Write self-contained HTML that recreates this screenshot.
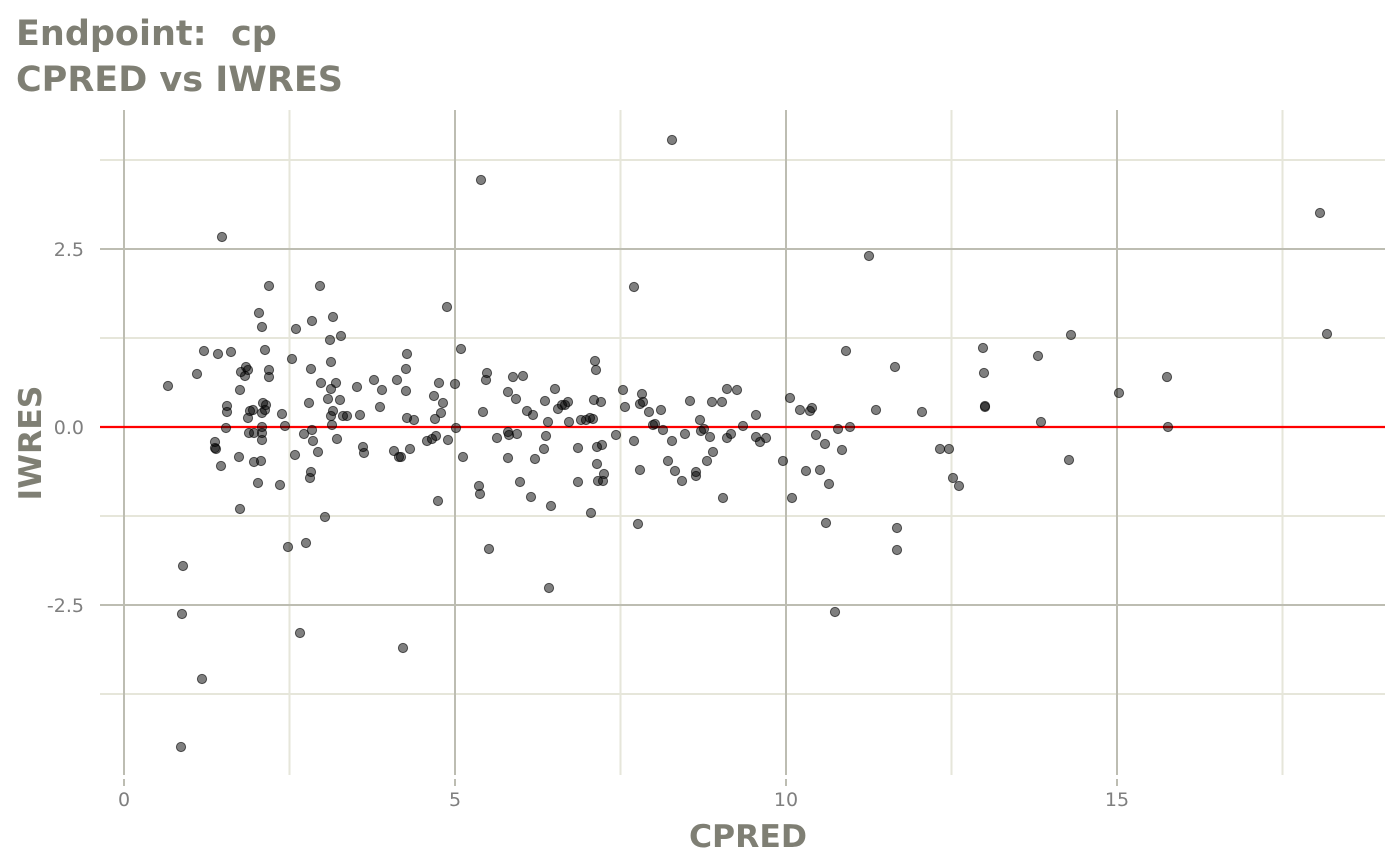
<!DOCTYPE html>
<html><head><meta charset="utf-8"><style>
html,body{margin:0;padding:0;background:#fff;}
svg{display:block;font-family:"DejaVu Sans","Liberation Sans",sans-serif;}
</style></head><body>
<svg width="1400" height="865" viewBox="0 0 1400 865" xmlns="http://www.w3.org/2000/svg">
<rect width="1400" height="865" fill="#fff"/>
<text x="16" y="45" font-size="35" font-weight="bold" fill="#7f7f74" xml:space="preserve">Endpoint:  cp</text>
<text x="16" y="91" font-size="35" font-weight="bold" fill="#7f7f74">CPRED vs IWRES</text>
<g stroke="#e6e6da" stroke-width="2">
<line x1="100" x2="1385" y1="160" y2="160"/><line x1="100" x2="1385" y1="338" y2="338"/>
<line x1="100" x2="1385" y1="516" y2="516"/><line x1="100" x2="1385" y1="694" y2="694"/>
<line x1="289.5" x2="289.5" y1="110" y2="775"/><line x1="620.5" x2="620.5" y1="110" y2="775"/>
<line x1="951.5" x2="951.5" y1="110" y2="775"/><line x1="1282.5" x2="1282.5" y1="110" y2="775"/>
</g>
<g stroke="#bdbdb2" stroke-width="2">
<line x1="100" x2="1385" y1="249" y2="249"/><line x1="100" x2="1385" y1="427" y2="427"/>
<line x1="100" x2="1385" y1="605" y2="605"/>
<line x1="124" x2="124" y1="110" y2="775"/><line x1="455" x2="455" y1="110" y2="775"/>
<line x1="786" x2="786" y1="110" y2="775"/><line x1="1117" x2="1117" y1="110" y2="775"/>
<line x1="124" x2="124" y1="779" y2="786"/><line x1="455" x2="455" y1="779" y2="786"/>
<line x1="786" x2="786" y1="779" y2="786"/><line x1="1117" x2="1117" y1="779" y2="786"/>
</g>
<line x1="100" x2="1385" y1="427" y2="427" stroke="#ff0000" stroke-width="2.2"/>
<g fill="rgba(0,0,0,0.5)" stroke="rgba(0,0,0,0.6)" stroke-width="1" id="pts"></g>
<g font-size="19" fill="#7f7f7f" text-anchor="end">
<text x="84" y="256">2.5</text><text x="84" y="434">0.0</text><text x="84" y="612">-2.5</text>
</g>
<g font-size="19" fill="#7f7f7f" text-anchor="middle">
<text x="124" y="806">0</text><text x="455" y="806">5</text><text x="786" y="806">10</text><text x="1117" y="806">15</text>
</g>
<text x="748" y="847" font-size="31.5" font-weight="bold" fill="#7f7f74" text-anchor="middle">CPRED</text>
<text transform="translate(41,443) rotate(-90)" font-size="31.5" font-weight="bold" fill="#7f7f74" text-anchor="middle">IWRES</text>
</svg>
<script>
var p=[[168,386],[183,566],[182,614],[181,747],[202,679],[197,374],[222,237],[218,354],[204,351],[231,352],[215,442],[215,448],[216,449],[221,466],[227,412],[226,428],[240,390],[241,372],[239,457],[240,509],[245,376],[246,367],[248,370],[249,433],[248,418],[250,411],[254,462],[254,433],[259,313],[262,327],[263,403],[262,413],[262,427],[262,433],[262,440],[261,461],[265,350],[266,405],[265,410],[269,286],[269,370],[269,377],[258,483],[282,414],[280,485],[285,426],[288,547],[292,359],[295,455],[296,329],[304,434],[306,543],[309,403],[310,478],[311,472],[312,430],[311,369],[313,441],[312,321],[318,452],[320,286],[321,383],[325,517],[328,399],[330,340],[331,416],[331,362],[331,389],[333,411],[333,317],[332,425],[336,383],[337,439],[340,400],[341,336],[343,416],[347,416],[357,387],[360,415],[363,447],[364,453],[374,380],[380,407],[382,390],[394,451],[399,457],[397,380],[401,457],[407,354],[406,369],[406,391],[407,418],[410,449],[414,420],[427,441],[432,439],[435,419],[436,436],[434,396],[439,383],[441,413],[438,501],[443,403],[447,307],[448,440],[455,384],[456,428],[461,349],[463,457],[300,633],[403,648],[481,180],[483,412],[479,486],[480,494],[486,380],[487,373],[489,549],[497,438],[508,392],[508,458],[508,432],[509,435],[513,377],[516,399],[517,434],[520,482],[523,376],[527,411],[531,497],[533,415],[535,459],[544,449],[545,401],[546,436],[548,422],[551,506],[549,588],[555,389],[558,409],[562,405],[565,405],[568,402],[569,422],[578,448],[578,482],[581,420],[586,420],[590,418],[593,419],[591,513],[594,400],[595,361],[596,370],[597,447],[597,464],[598,481],[601,402],[602,445],[603,481],[604,474],[616,435],[623,390],[625,407],[634,287],[634,441],[638,524],[640,470],[640,404],[642,394],[643,402],[649,412],[653,425],[655,424],[661,410],[663,430],[668,461],[672,441],[675,471],[682,481],[685,434],[690,401],[696,476],[696,472],[700,420],[701,431],[704,429],[707,461],[710,437],[712,402],[713,452],[722,402],[723,498],[727,389],[727,438],[731,434],[737,390],[743,426],[756,415],[756,437],[760,442],[766,438],[783,461],[790,398],[792,498],[800,410],[806,471],[810,411],[812,408],[816,435],[820,470],[825,444],[826,523],[829,484],[835,612],[838,429],[842,450],[846,351],[850,427],[869,256],[876,410],[895,367],[897,528],[897,550],[922,412],[940,449],[949,449],[953,478],[959,486],[983,348],[984,373],[985,407],[985,406],[1041,422],[1038,356],[1069,460],[1071,335],[1119,393],[1167,377],[1168,427],[1320,213],[1327,334],[672,140],[253,410],[227,406]];
var g=document.getElementById('pts'),s='';
p.forEach(function(a){s+='<circle cx="'+a[0]+'" cy="'+a[1]+'" r="4.6"/>';});
g.innerHTML=s;
</script>
</body></html>
